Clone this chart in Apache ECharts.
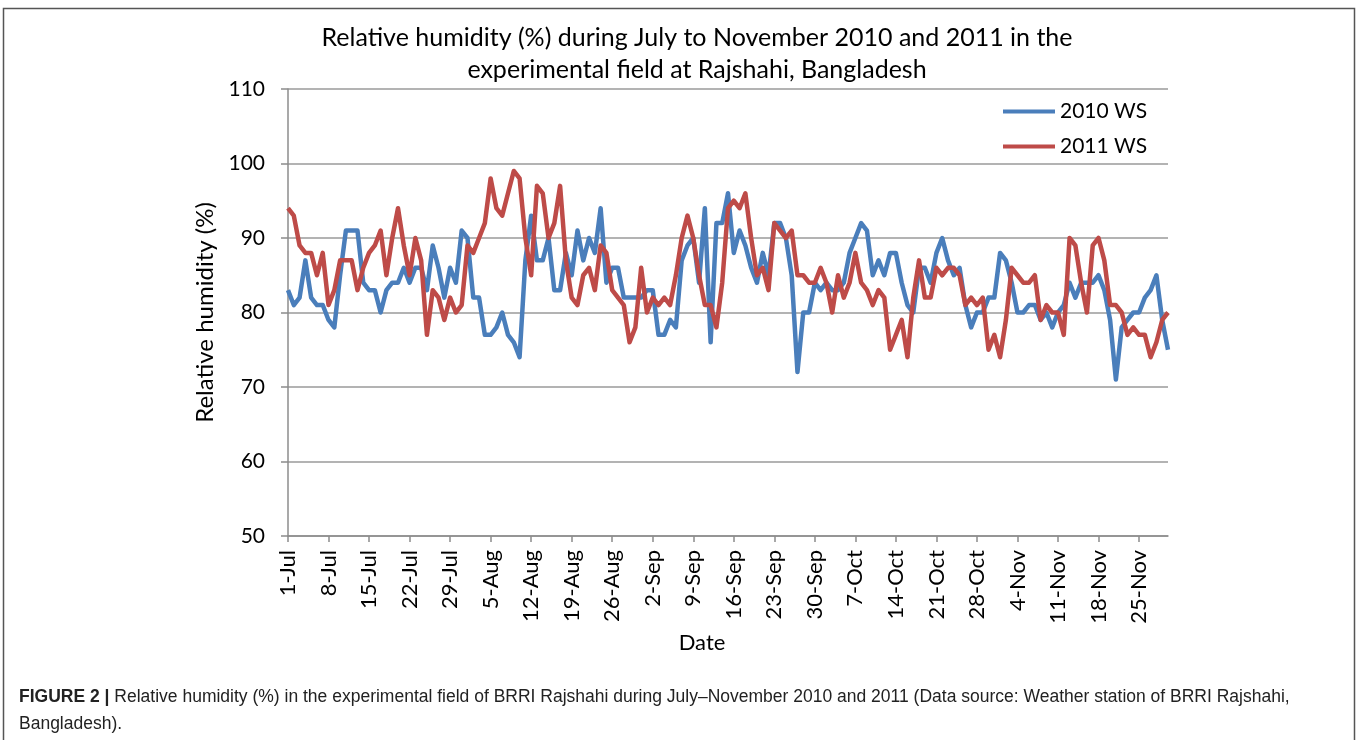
<!DOCTYPE html>
<html>
<head>
<meta charset="utf-8">
<script src="https://cdn.jsdelivr.net/npm/echarts@6/dist/echarts.min.js"></script>
<style>
  html, body { margin: 0; padding: 0; background: #fff; }
  #chart { width: 1358px; height: 740px; }
</style>
</head>
<body>
<div id="chart"></div>
<script>
// months shown on the axis and their day counts
var months = ['Jul', 'Aug', 'Sep', 'Oct', 'Nov'];
var monthDays = [31, 31, 30, 31, 30];

// daily relative humidity (%), 1-Jul .. 30-Nov
var rh2010 = [
    83, 81, 82, 87, 82, 81, 81, 79, 78, 85, 91, 91, 91, 84, 83, 83, 80, 83, 84, 84, 86, 84, 86, 86, 83,
    89, 86, 82, 86, 84, 91, 90, 82, 82, 77, 77, 78, 80, 77, 76, 74, 87, 93, 87, 87, 90, 83, 83, 88, 85,
    91, 87, 90, 88, 94, 84, 86, 86, 82, 82, 82, 82, 83, 83, 77, 77, 79, 78, 87, 89, 90, 84, 94, 76, 92, 92,
    96, 88, 91, 89, 86, 84, 88, 85, 92, 92, 90, 85, 72, 80, 80, 84, 83, 84, 83, 83, 84, 88, 90, 92, 91,
    85, 87, 85, 88, 88, 84, 81, 80, 86, 86, 84, 88, 90, 87, 85, 86, 81, 78, 80, 80, 82, 82, 88, 87, 84,
    80, 80, 81, 81, 79, 80, 78, 80, 81, 84, 82, 84, 84, 84, 85, 83, 79, 71, 78, 79, 80, 80, 82, 83, 85, 79, 75
];
var rh2011 = [
    94, 93, 89, 88, 88, 85, 88, 81, 83, 87, 87, 87, 83, 86, 88, 89, 91, 85, 90, 94, 89, 85, 90, 87, 77,
    83, 82, 79, 82, 80, 81, 89, 88, 90, 92, 98, 94, 93, 96, 99, 98, 90, 85, 97, 96, 90, 92, 97, 87, 82,
    81, 85, 86, 83, 89, 88, 83, 82, 81, 76, 78, 86, 80, 82, 81, 82, 81, 85, 90, 93, 90, 85, 81, 81, 78, 84,
    94, 95, 94, 96, 90, 85, 86, 83, 92, 91, 90, 91, 85, 85, 84, 84, 86, 84, 80, 85, 82, 84, 88, 84, 83,
    81, 83, 82, 75, 77, 79, 74, 82, 87, 82, 82, 86, 85, 86, 86, 85, 81, 82, 81, 82, 75, 77, 74, 79, 86,
    85, 84, 84, 85, 79, 81, 80, 80, 77, 90, 89, 84, 80, 89, 90, 87, 81, 81, 80, 77, 78, 77, 77, 74, 76, 79, 80
];

var dates = [];
for (var m = 0; m < months.length; m++) {
    for (var d = 1; d <= monthDays[m]; d++) {
        dates.push(d + '-' + months[m]);
    }
}

var font = 'Lato, Carlito, Calibri, sans-serif';
var capFont = '"Liberation Sans", Arial, Helvetica, sans-serif';

var chart = echarts.init(document.getElementById('chart'), null, { renderer: 'canvas' });

var option = {
    backgroundColor: '#fff',
    animation: false,
    title: {
        text: 'Relative humidity (%) during July to November 2010 and 2011 in the\nexperimental field at Rajshahi, Bangladesh',
        left: 692,
        top: 17,
        textAlign: 'center',
        textStyle: {
            fontFamily: font,
            fontSize: 25,
            fontWeight: 'normal',
            lineHeight: 32,
            color: '#000'
        }
    },
    legend: {
        orient: 'vertical',
        left: 998,
        top: 96,
        itemWidth: 52,
        itemHeight: 4,
        itemGap: 14,
        icon: 'rect',
        data: ['2010 WS', '2011 WS'],
        textStyle: { fontFamily: font, fontSize: 21, color: '#000', lineHeight: 21 }
    },
    grid: {
        left: 288,
        right: 190,
        top: 89,
        bottom: 204
    },
    xAxis: {
        type: 'category',
        data: dates,
        boundaryGap: false,
        name: 'Date',
        nameLocation: 'middle',
        nameGap: 94,
        nameTextStyle: { fontFamily: font, fontSize: 22, color: '#000', padding: [0, 52, 0, 0] },
        axisLine: { lineStyle: { color: '#8c8c8c', width: 1.5 } },
        axisTick: { show: true, interval: 6, length: 6, lineStyle: { color: '#8c8c8c', width: 1.5 } },
        axisLabel: {
            interval: 6,
            rotate: 90,
            margin: 14,
            fontFamily: font,
            fontSize: 22,
            color: '#000'
        },
        splitLine: { show: false }
    },
    yAxis: {
        type: 'value',
        min: 50,
        max: 110,
        interval: 10,
        name: 'Relative humidity (%)',
        nameLocation: 'middle',
        nameGap: 70,
        nameTextStyle: { fontFamily: font, fontSize: 24, color: '#000' },
        axisLine: { show: true, lineStyle: { color: '#8c8c8c', width: 1.5 } },
        axisTick: { show: true, length: 7, lineStyle: { color: '#8c8c8c', width: 1.5 } },
        axisLabel: { margin: 23, fontFamily: font, fontSize: 21, color: '#000' },
        splitLine: { lineStyle: { color: '#9a9a9a', width: 1.5 } }
    },
    series: [
        {
            name: '2010 WS',
            type: 'line',
            data: rh2010,
            showSymbol: false,
            symbol: 'none',
            color: '#4A7EBB',
            lineStyle: { width: 4.5, color: '#4A7EBB', join: 'round' },
            z: 3
        },
        {
            name: '2011 WS',
            type: 'line',
            data: rh2011,
            showSymbol: false,
            symbol: 'none',
            color: '#BE4B48',
            lineStyle: { width: 4.5, color: '#BE4B48', join: 'round' },
            z: 4
        }
    ],
    graphic: [
        {
            type: 'rect',
            silent: true,
            shape: { x: 3.5, y: 8.5, width: 1351, height: 800 },
            style: { fill: 'none', stroke: '#555', lineWidth: 1.5 }
        },
        {
            type: 'text',
            left: 19,
            top: 684,
            style: {
                text: '{b|FIGURE 2 |} Relative humidity (%) in the experimental field of BRRI Rajshahi during July\u2013November 2010 and 2011 (Data source: Weather station of BRRI Rajshahi,\nBangladesh).',
                fontFamily: capFont,
                fontSize: 17.5,
                lineHeight: 27,
                fill: '#222',
                rich: {
                    b: { fontFamily: capFont, fontSize: 17.5, fontWeight: 'bold', fill: '#222' }
                }
            }
        }
    ]
};

chart.setOption(option);
</script>
</body>
</html>
